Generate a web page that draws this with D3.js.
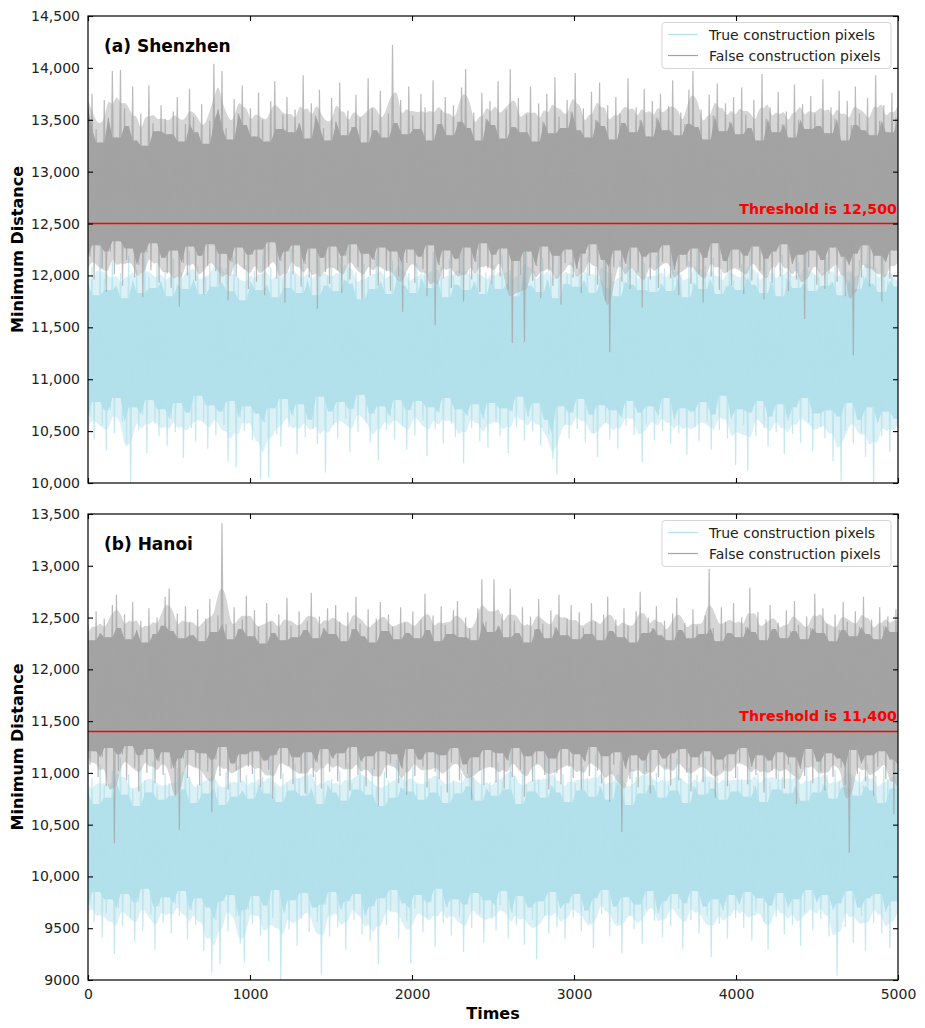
<!DOCTYPE html>
<html><head><meta charset="utf-8">
<script src="https://cdn.jsdelivr.net/npm/d3@7"></script>
<style>body{margin:0;background:#fff} svg{display:block} text{font-family:"DejaVu Sans",sans-serif}</style>
</head><body><svg id="c" width="925" height="1028"></svg>
<script>
// ---- Data (local highs / lows read along the time axis, 200 bins of 25 steps) ----
const szFalseHi=[13620,13750,13410,13280,13690,13520,13970,13330,13980,13610,13440,13820,13300,13560,13250,13830,13470,13390,13640,13510,
13360,13580,13720,13290,13460,13800,13530,13380,13650,13270,13490,14040,13600,13970,13420,13310,13700,13560,13830,13450,
13610,13340,13760,13500,13290,13680,13870,13410,13550,13720,13380,13600,13470,13930,13320,13660,13540,13790,13420,13300,
13710,13480,13860,13350,13590,13430,13740,13520,13280,13900,13610,13400,13780,13330,13560,14220,13470,13690,13360,13820,
13540,13410,13750,13620,13300,13880,13460,13590,13720,13350,13640,13480,13810,13990,13420,13570,13300,13760,13510,13680,
13450,13870,13320,13600,13990,13430,13710,13380,13550,13820,13290,13660,13480,13750,13370,13910,13530,13420,13690,13580,
13950,13400,13610,13330,13770,13500,13860,13440,13640,13310,13720,13560,13470,13900,13380,13620,13500,13800,13340,13680,
13520,13750,13400,13630,13880,13350,13570,13460,13790,13970,13430,13600,13310,13740,13540,13850,13390,13660,13480,13720,
13360,13810,13550,13420,13690,13300,13940,13510,13620,13380,13770,13460,13580,13330,13840,13500,13650,13410,13730,13560,
13440,13890,13370,13620,13510,13780,13300,13680,13450,13820,13560,13400,13710,13350,13930,13490,13640,13380,13760,13520];
const szFalseLo=[12180,11960,12290,12070,11840,12230,12010,12330,11900,12150,12260,11980,12100,11790,12220,12050,12310,11930,12170,12020,
11880,12240,11700,12120,12000,12280,11950,12190,11820,12090,12300,12040,11910,12210,11760,12130,11990,12270,12060,11870,
12200,11940,12250,11810,12080,12320,11970,12140,11740,12230,12010,12290,11890,12110,11980,12260,11680,12170,12030,11920,
12280,12050,11830,12190,11960,12300,12080,11770,12210,12000,12150,11900,12270,12040,11850,12230,11990,11650,12120,12250,
11930,12180,12060,11800,12290,11520,12100,11970,12240,11880,12160,12020,11750,12270,11960,12130,11840,12310,12070,11920,
12200,11990,12260,11860,11350,12140,12010,11360,12230,11950,12090,11780,12280,12040,11900,12190,11720,12120,12250,11980,
12060,11830,12210,12000,12300,11910,12150,11760,11260,12080,12240,11940,12110,11870,12270,12030,11690,12180,11960,12220,
11880,12130,12290,11970,12050,11810,12200,12090,11920,12260,12010,11740,12170,11990,12310,11860,12140,12030,11900,12250,
12070,11820,12190,11950,12280,12040,11770,12160,11930,12230,11990,12300,11850,12110,11960,12200,11580,12080,12240,11910,
12150,11870,12020,12270,11940,12180,11800,12100,11230,12210,11980,12290,11890,12060,12190,11750,12130,11970,12240,12010];
const szTrueHi=[11920,12080,11810,12310,11970,11860,12140,11900,12020,11780,12190,11950,12060,11830,12270,11990,11880,12110,11940,12050,
11800,12160,11910,12030,11870,12240,11960,12090,11820,12000,12130,11890,12330,11930,12070,11850,12180,11980,11760,12100,
11940,12040,11860,12200,11910,12080,11790,12150,11970,11880,12260,12010,11830,12120,11950,12050,11810,12220,11900,12000,
12090,11850,12170,11960,12290,11920,12030,11770,12110,11990,11870,12210,11940,12060,11820,12140,11980,12250,11900,12020,
11830,12120,11970,12040,11880,12230,11950,12080,11790,12160,12000,11910,12280,11860,12070,11940,12190,11820,12030,11960,
12100,11870,12200,11930,12050,11800,12150,11990,12320,11900,12040,11840,12170,11960,12080,11780,12210,11920,12010,12130,
11890,12060,11950,12180,11830,12100,11970,12240,11880,12020,11800,12150,11940,12270,11910,12050,11860,12120,11990,11840,
12190,11920,12070,11850,12230,11980,12010,11790,12140,11930,12300,11870,12090,11960,12170,11820,12040,11900,12210,11950,
11860,12110,11980,12260,11910,12030,11830,12160,11940,12080,11800,12200,11970,12050,11880,12130,11920,12290,11850,12010,
12060,11900,12180,11940,12100,11810,12220,11960,12040,11870,12150,11990,12310,11920,12070,11840,12190,11950,12020,11890];
const szTrueLo=[10640,10420,10780,10550,10310,10700,10480,10820,10590,10380,10000,10730,10510,10660,10290,10800,10570,10450,10710,10360,
10620,10490,10770,10240,10680,10530,10400,10840,10600,10330,10750,10460,10690,10560,10210,10790,10150,10630,10500,10740,
10410,10670,10040,10580,10050,10720,10470,10350,10810,10540,10650,10280,10760,10440,10610,10520,10370,10830,10100,10690,
10560,10430,10780,10620,10300,10710,10490,10850,10580,10390,10670,10220,10740,10510,10640,10420,10800,10550,10320,10700,
10460,10790,10600,10260,10730,10520,10680,10380,10820,10570,10440,10710,10190,10650,10530,10760,10400,10620,10340,10770,
10580,10450,10720,10290,10690,10540,10830,10410,10640,10500,10770,10360,10610,10470,10230,10080,10740,10560,10430,10680,
10520,10810,10390,10660,10480,10250,10750,10590,10420,10700,10330,10630,10550,10790,10460,10680,10200,10570,10740,10410,
10650,10500,10820,10370,10610,10480,10720,10270,10690,10540,10400,10780,10590,10320,10660,10510,10840,10430,10620,10170,
10710,10560,10120,10680,10450,10790,10530,10350,10640,10490,10760,10280,10600,10470,10730,10390,10820,10580,10310,10670,
10540,10430,10700,10210,10640,10020,10500,10770,10380,10610,10490,10250,10730,10000,10580,10450,10690,10300,10620,10520];
const hnFalseHi=[12430,12280,12560,12350,12490,12310,12620,12720,12400,12530,12290,12650,12380,12470,12260,12590,12340,12500,12420,12700,
12780,12370,12540,12300,12610,12450,12330,12580,12270,12490,12680,12360,12520,13410,12440,12290,12600,12390,12480,12710,
12320,12570,12410,12250,12640,12460,12350,12530,12280,12690,12420,12310,12560,12380,12470,12740,12300,12510,12400,12590,
12340,12620,12460,12270,12550,12390,12700,12440,12320,12580,12260,12490,12650,12370,12530,12410,12290,12600,12450,12350,
12560,12300,12480,12730,12380,12520,12270,12610,12430,12340,12570,12660,12310,12500,12400,12280,12590,12870,12460,12360,
12870,12420,12540,12310,12780,12470,12350,12600,12260,12510,12390,12680,12440,12300,12570,12410,12720,12330,12490,12620,
12290,12550,12400,12340,12640,12460,12280,12530,12700,12370,12480,12310,12590,12420,12260,12560,12750,12350,12500,12400,
12610,12330,12470,12280,12540,12690,12380,12450,12300,12580,12420,12340,12520,12970,12400,12270,12600,12460,12350,12640,
12310,12500,12410,12790,12360,12550,12280,12480,12620,12390,12450,12300,12570,12370,12660,12430,12290,12510,12400,12730,
12350,12590,12440,12270,12530,12380,12650,12460,12320,12560,12410,12700,12340,12480,12290,12600,12420,12510,12360,12580];
const hnFalseLo=[11080,11210,10960,11150,10870,11240,10320,11020,11180,10930,11260,11050,10820,11170,11000,11230,10900,11110,10980,11200,
11040,10780,10450,11140,10950,11220,11060,10880,11190,11010,10620,11130,10970,11250,10840,11090,11020,10910,11180,11060,
10990,11210,10860,11120,11030,10750,11170,10940,11240,11070,10890,11150,11000,10800,11200,10960,11100,10850,11230,11010,
11140,10920,11190,11050,10830,11250,10980,11110,10870,11160,11030,10680,11210,10950,11090,11180,10900,11040,10790,11230,
10970,11130,11060,10860,11200,11010,10940,11170,10810,11100,11240,10930,11080,10990,10740,11150,11020,10880,11220,11050,
10910,11190,10850,11120,10960,11240,11030,10770,11160,10920,11090,11210,10980,10840,11140,11000,10890,11230,11060,10950,
11180,10830,11110,10970,11250,11020,10900,11160,10720,11080,11200,10430,11040,10940,11170,10860,11120,11010,10800,11220,
10960,11140,11050,10880,11190,10930,11230,11000,10820,11150,11070,10910,11210,10990,10760,11130,11030,10870,11180,10950,
11100,11240,10890,11060,10980,11170,10810,11120,11020,10940,11200,10850,11080,11150,10700,11040,10970,11230,10900,11110,
11010,10830,11190,10960,11140,11050,10880,10230,11220,10990,11090,10920,11170,10780,11060,11210,10940,11130,10600,11080];
const hnTrueHi=[10820,10950,10700,11080,10880,10760,11020,10910,11150,10790,10990,10850,10680,11060,10930,10810,11110,10870,10740,11000,
10900,10780,11050,10840,11200,10960,10710,10890,11030,10800,10940,11120,10860,10690,11010,10920,10770,11070,10830,10980,
10750,11040,10890,10960,10800,11140,10870,10720,11000,10910,10830,11090,10950,10780,11230,10850,10990,10700,11060,10880,
10940,10810,11020,10730,11100,10900,10840,11170,10960,10790,11050,10870,10680,11010,10920,10760,11130,10860,10990,10820,
11080,10890,10740,11030,10950,10810,11190,10880,10710,11060,10930,10800,11000,10870,11120,10960,10730,11040,10850,10910,
10780,11100,10920,10840,11250,10970,10700,11010,10890,10820,11070,10940,10760,11150,10880,11030,10810,10990,10720,11090,
10900,10830,11060,10950,10770,11180,10870,10990,10740,11020,10910,11110,10850,10690,11040,10960,10800,11210,10880,10930,
11000,10760,11080,10890,10830,11140,10950,10710,11050,10870,10980,10790,11160,10920,10850,11030,10740,11090,10900,10820,
11060,10940,10770,11120,10880,11000,10720,11180,10910,10840,11040,10960,10800,11100,10870,10990,10730,11070,10930,10810,
11150,10890,10980,10750,11030,10920,10860,11200,10950,10780,11010,10880,11090,10830,10970,10710,11060,10940,10850,11120];
const hnTrueLo=[9720,9560,9850,9410,9640,9780,9250,9690,9520,9830,9600,9370,9750,9480,9880,9630,9300,9710,9550,9800,
9450,9740,9620,9860,9390,9670,9530,9790,9280,9700,9070,9580,9150,9760,9470,9820,9610,9350,9170,9680,
9540,9810,9430,9720,9180,9600,9870,9000,9650,9490,9770,9330,9590,9840,9460,9700,9560,9050,9730,9420,
9850,9510,9680,9290,9760,9580,9830,9440,9620,9380,9710,9150,9790,9530,9660,9870,9400,9740,9570,9160,
9690,9820,9460,9600,9750,9320,9880,9550,9700,9430,9780,9610,9270,9730,9500,9840,9640,9360,9770,9590,
9480,9720,9860,9400,9650,9530,9810,9340,9700,9580,9200,9760,9620,9450,9850,9510,9690,9390,9740,9600,
9830,9470,9670,9560,9310,9790,9640,9870,9420,9710,9550,9260,9800,9620,9490,9730,9350,9680,9860,9570,
9640,9410,9760,9520,9830,9690,9300,9740,9580,9860,9450,9710,9620,9220,9780,9540,9670,9400,9820,9600,
9730,9500,9850,9380,9660,9790,9560,9290,9720,9610,9840,9440,9700,9530,9780,9330,9650,9870,9480,9750,
9590,9820,9420,9680,9040,9740,9510,9860,9360,9700,9620,9280,9790,9550,9830,9450,9660,9310,9760,9580];

const xTicks=[0,1000,2000,3000,4000,5000];
const xTickLabels=["0","1000","2000","3000","4000","5000"];
const szYTicks=[10000,10500,11000,11500,12000,12500,13000,13500,14000,14500];
const szYTickLabels=["10,000","10,500","11,000","11,500","12,000","12,500","13,000","13,500","14,000","14,500"];
const hnYTicks=[9000,9500,10000,10500,11000,11500,12000,12500,13000,13500];
const hnYTickLabels=["9000","9500","10,000","10,500","11,000","11,500","12,000","12,500","13,000","13,500"];
const seriesNames=["True construction pixels","False construction pixels"];
const thresholds=[12500,11400];
const titles=["(a) Shenzhen","(b) Hanoi"];

// ---- Drawing ----
const svg=d3.select("#c");
const X0=88,X1=898;
const x=d3.scaleLinear().domain([0,5000]).range([X0,X1]);
const colTrue="#b2e0eb", colFalse="#a3a3a3";

function interleave(hi,lo){
  const v=[];hi.forEach((h,i)=>{v.push(h);v.push(lo[i]);});
  return v.map((val,i)=>({t:i*5000/(v.length-1),v:val}));
}
// dense core (overlap of neighbouring bins) and softer fringe (neighbourhood mean)
function band(hi,lo,agg){
  const n=hi.length;
  return hi.map((h,k)=>{
    const a=Math.max(0,k-1),b=Math.min(n,k+2);
    return agg==="core"
      ? {t:k*5000/(n-1),top:d3.min(hi.slice(a,b)),bot:d3.max(lo.slice(a,b))}
      : {t:k*5000/(n-1),top:d3.mean(hi.slice(a,b)),bot:d3.mean(lo.slice(a,b))};
  });
}

const panels=[
 {top:16,bottom:483,dom:[10000,14500],yt:szYTicks,yl:szYTickLabels,tHi:szTrueHi,tLo:szTrueLo,fHi:szFalseHi,fLo:szFalseLo,thr:thresholds[0],title:titles[0],showX:false},
 {top:514,bottom:980,dom:[9000,13500],yt:hnYTicks,yl:hnYTickLabels,tHi:hnTrueHi,tLo:hnTrueLo,fHi:hnFalseHi,fLo:hnFalseLo,thr:thresholds[1],title:titles[1],showX:true}
];

panels.forEach((p,pi)=>{
  const y=d3.scaleLinear().domain(p.dom).range([p.bottom,p.top]);
  const g=svg.append("g");
  const cid="clip"+pi;
  svg.append("clipPath").attr("id",cid).append("rect").attr("x",X0).attr("y",p.top).attr("width",X1-X0).attr("height",p.bottom-p.top);
  const line=d3.line().x(d=>x(d.t)).y(d=>y(d.v));
  const area=d3.area().x(d=>x(d.t)).y0(d=>y(d.bot)).y1(d=>y(d.top));
  const soft=d3.area().x(d=>x(d.t)).y0(d=>y(d.bot)).y1(d=>y(d.top)).curve(d3.curveBasis);
  const lg=g.append("g").attr("clip-path",`url(#${cid})`);
  [[p.tHi,p.tLo,colTrue],[p.fHi,p.fLo,colFalse]].forEach(([hi,lo,c])=>{
    lg.append("path").datum(band(hi,lo,"mean")).attr("d",soft).attr("fill",c).attr("fill-opacity",0.45).attr("stroke","none");
    lg.append("path").datum(band(hi,lo,"core")).attr("d",area).attr("fill",c).attr("stroke","none");
    lg.append("path").datum(interleave(hi,lo)).attr("d",line).attr("fill","none").attr("stroke",c).attr("stroke-width",1.2).attr("stroke-opacity",0.75);
  });
  // threshold
  g.append("line").attr("x1",X0).attr("x2",X1).attr("y1",y(p.thr)).attr("y2",y(p.thr)).attr("stroke","#ff0000").attr("stroke-width",1.6);
  g.append("text").attr("x",X1-1).attr("y",y(p.thr)-10).attr("text-anchor","end").attr("fill","#ff0000")
    .attr("font-weight","bold").attr("font-size","14.2px").text("Threshold is "+d3.format(",")(p.thr));
  // axes (inward ticks all sides)
  const yAxL=d3.axisLeft(y).tickValues(p.yt).tickSizeInner(-5).tickSizeOuter(0).tickPadding(8).tickFormat((d,i)=>p.yl[i]);
  g.append("g").attr("transform",`translate(${X0},0)`).call(yAxL);
  const yAxR=d3.axisRight(y).tickValues(p.yt).tickSizeInner(-5).tickSizeOuter(0).tickFormat("");
  g.append("g").attr("transform",`translate(${X1},0)`).call(yAxR);
  const xAxB=d3.axisBottom(x).tickValues(xTicks).tickSizeInner(-5).tickSizeOuter(0).tickPadding(9).tickFormat((d,i)=>p.showX?xTickLabels[i]:"");
  g.append("g").attr("transform",`translate(0,${p.bottom})`).call(xAxB);
  const xAxT=d3.axisTop(x).tickValues(xTicks).tickSizeInner(-5).tickSizeOuter(0).tickFormat("");
  g.append("g").attr("transform",`translate(0,${p.top})`).call(xAxT);
  g.selectAll(".domain").remove();
  g.selectAll(".tick line").attr("stroke","#000").attr("stroke-width",1.1);
  g.selectAll(".tick text").attr("font-size","14px").attr("fill","#222").attr("font-family","DejaVu Sans, sans-serif");
  g.append("rect").attr("x",X0).attr("y",p.top).attr("width",X1-X0).attr("height",p.bottom-p.top).attr("fill","none").attr("stroke","#000").attr("stroke-width",1.2);
  // title
  g.append("text").attr("x",104).attr("y",p.top+36).attr("font-weight","bold").attr("font-size","17px").attr("fill","#000").text(p.title);
  // y label
  g.append("text").attr("transform",`translate(23,${(p.top+p.bottom)/2}) rotate(-90)`).attr("text-anchor","middle")
    .attr("font-weight","bold").attr("font-size","16px").attr("fill","#000").text("Minimum Distance");
  // legend
  const lgd=g.append("g").attr("transform",`translate(662,${p.top+6.5})`);
  lgd.append("rect").attr("width",229).attr("height",46).attr("rx",3).attr("fill","#fff").attr("fill-opacity",0.85).attr("stroke","#d6d6d6");
  [colTrue,colFalse].forEach((c,i)=>{
    lgd.append("line").attr("x1",6).attr("x2",36).attr("y1",12+i*21).attr("y2",12+i*21).attr("stroke",c).attr("stroke-width",1.2);
    lgd.append("text").attr("x",47).attr("y",17+i*21).attr("font-size","14px").attr("fill","#222").text(seriesNames[i]);
  });
});
svg.append("text").attr("x",(X0+X1)/2).attr("y",1019).attr("text-anchor","middle").attr("font-weight","bold").attr("font-size","16px").attr("fill","#000").text("Times");
</script></body></html>
